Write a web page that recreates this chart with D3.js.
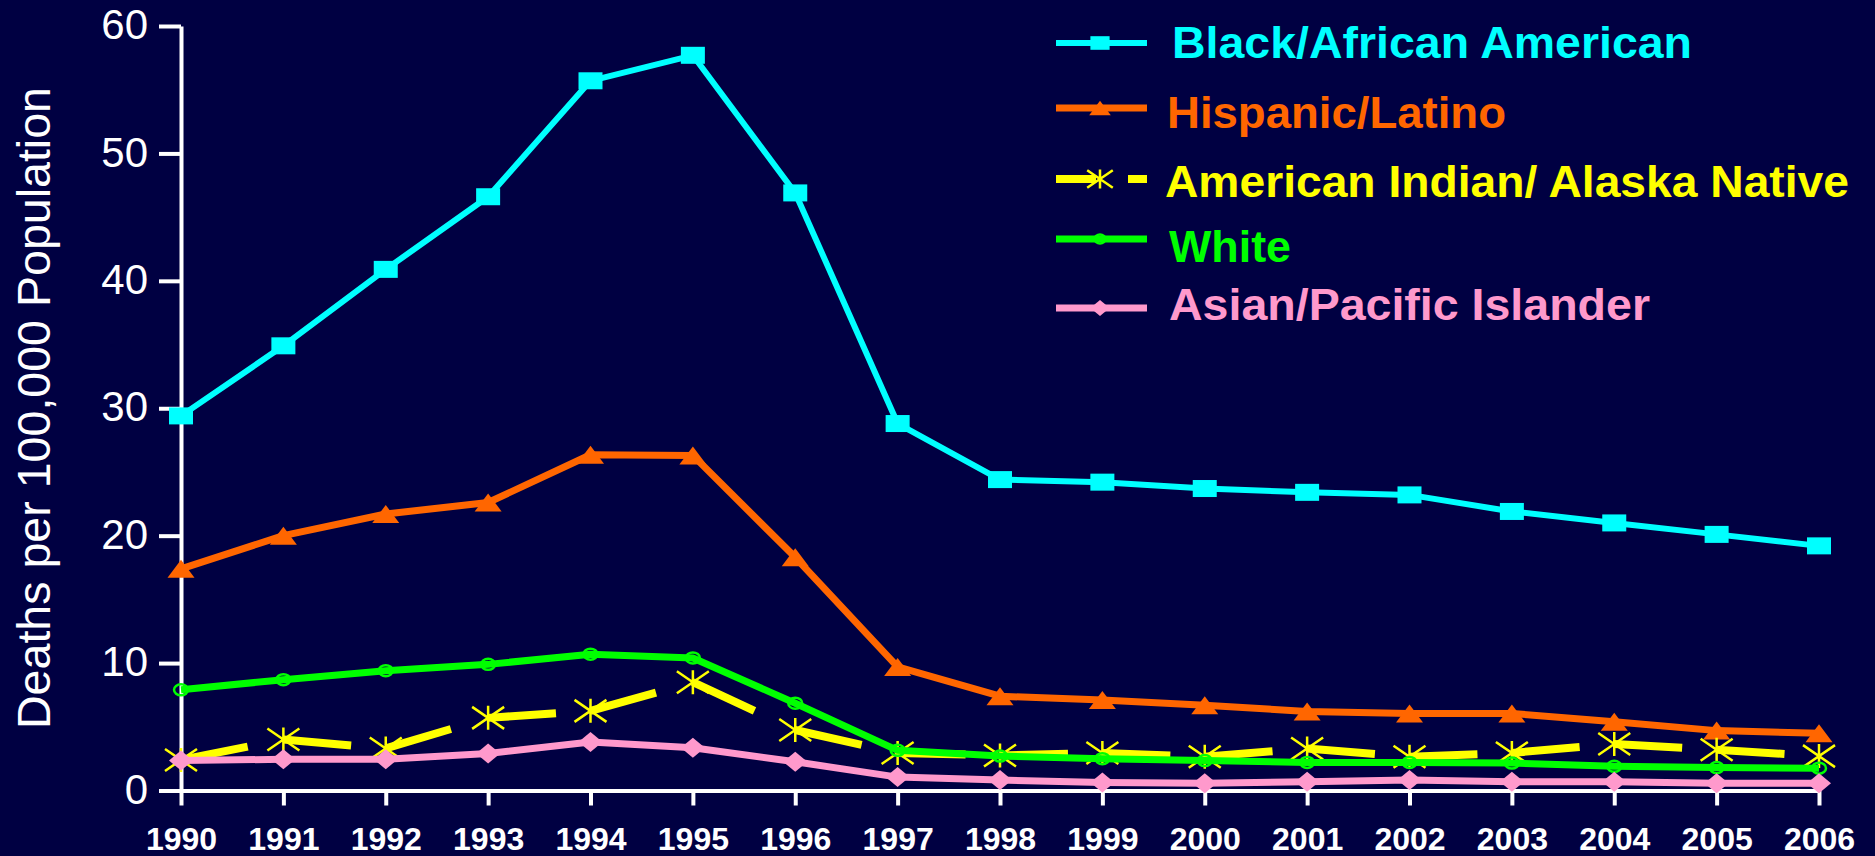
<!DOCTYPE html>
<html>
<head>
<meta charset="utf-8">
<script src="https://cdn.jsdelivr.net/npm/d3@7"></script>
<style>
  html, body { margin: 0; padding: 0; background: #000042; }
  svg { display: block; }
</style>
</head>
<body>
<svg id="chart" width="1875" height="856"></svg>
<script>
// ---- data ----
const years = [1990,1991,1992,1993,1994,1995,1996,1997,1998,1999,2000,2001,2002,2003,2004,2005,2006];
const yTicks = [0,10,20,30,40,50,60];
const black    = [29.4,34.9,40.9,46.6,55.7,57.7,46.9,28.8,24.4,24.2,23.7,23.4,23.2,21.9,21.0,20.1,19.2];
const hispanic = [17.4,20.0,21.7,22.6,26.35,26.3,18.3,9.7,7.4,7.1,6.7,6.2,6.05,6.05,5.4,4.7,4.5];
const aian     = [2.4,4.0,3.3,5.7,6.25,8.5,4.75,2.95,2.75,2.95,2.65,3.3,2.65,2.95,3.65,3.2,2.7];
const white    = [7.9,8.7,9.4,9.9,10.7,10.4,6.85,3.15,2.7,2.5,2.35,2.2,2.2,2.15,1.9,1.8,1.75];
const asian    = [2.35,2.45,2.45,2.9,3.8,3.35,2.25,1.05,0.82,0.62,0.56,0.69,0.82,0.69,0.68,0.57,0.56];
const seriesNames = ["Black/African American","Hispanic/Latino","American Indian/ Alaska Native","White","Asian/Pacific Islander"];
const yLabel = "Deaths per 100,000 Population";

// ---- layout / style ----
const svg = d3.select("#chart");
svg.append("rect").attr("width",1875).attr("height",856).attr("fill","#000042");

const x = d3.scalePoint().domain(years).range([181, 1819]);
const y = d3.scaleLinear().domain([0, 60]).range([790.5, 26]);

const series = [
  {name: seriesNames[0], values: black,    color: "#00FFFF", width: 6, marker: "square"},
  {name: seriesNames[1], values: hispanic, color: "#FF6600", width: 7, marker: "triangle"},
  {name: seriesNames[2], values: aian,     color: "#FFFF00", width: 8, marker: "asterisk", dashed: true},
  {name: seriesNames[3], values: white,    color: "#00FF00", width: 7, marker: "circle"},
  {name: seriesNames[4], values: asian,    color: "#FF99CC", width: 7, marker: "diamond"}
];

// axes
const yAxis = d3.axisLeft(y).tickValues(yTicks).tickSize(22).tickSizeOuter(0).tickPadding(11);
const gy = svg.append("g").attr("transform","translate(181,0)").call(yAxis);
gy.selectAll("path.domain").attr("stroke","#fff").attr("stroke-width",4);
gy.selectAll(".tick line").attr("stroke","#fff").attr("stroke-width",4);
gy.selectAll(".tick text").attr("fill","#fff").attr("font-family","'Liberation Sans', Arial, sans-serif")
  .attr("font-size",42).attr("dy","0.3em");

const xAxis = d3.axisBottom(x).tickSize(15).tickSizeOuter(0).tickPadding(0);
const gx = svg.append("g").attr("transform","translate(0,790.5)").call(xAxis);
gx.selectAll("path.domain").attr("stroke","#fff").attr("stroke-width",4);
gx.selectAll(".tick line").attr("stroke","#fff").attr("stroke-width",4);
gx.selectAll(".tick text").attr("fill","#fff").attr("font-family","'Liberation Sans', Arial, sans-serif")
  .attr("font-size",32).attr("font-weight","bold").attr("y",59.5).attr("dy","0");
svg.selectAll(".tick text").attr("font-family","'Liberation Sans', Arial, sans-serif");
gx.attr("font-family",null); gy.attr("font-family",null);

// y label
svg.append("text")
  .attr("transform","translate(50,408) rotate(-90)")
  .attr("text-anchor","middle")
  .attr("fill","#fff")
  .attr("font-family","'Liberation Sans Narrow','Liberation Sans', Arial, sans-serif")
  .attr("font-size",46)
  .attr("textLength",642).attr("lengthAdjust","spacingAndGlyphs")
  .text(yLabel);

// marker drawing
function drawMarker(g, type, color, cx, cy, scale) {
  const s = scale || 1;
  if (type === "square") {
    g.append("rect").attr("x",cx-12*s).attr("y",cy-8.5*s).attr("width",24*s).attr("height",17*s).attr("fill",color);
  } else if (type === "triangle") {
    g.append("path").attr("d",`M${cx},${cy-9*s} L${cx+13.5*s},${cy+9*s} L${cx-13.5*s},${cy+9*s} Z`).attr("fill",color);
  } else if (type === "diamond") {
    g.append("path").attr("d",`M${cx},${cy-10*s} L${cx+12*s},${cy} L${cx},${cy+10*s} L${cx-12*s},${cy} Z`).attr("fill",color);
  } else if (type === "circle") {
    g.append("ellipse").attr("cx",cx).attr("cy",cy).attr("rx",7*s).attr("ry",5.5*s)
      .attr("fill","none").attr("stroke",color).attr("stroke-width",2.5);
  } else if (type === "asterisk") {
    const p = `M${cx},${cy-12*s} L${cx},${cy+12*s} M${cx-16*s},${cy-11*s} L${cx+16*s},${cy+11*s} M${cx-16*s},${cy+11*s} L${cx+16*s},${cy-11*s}`;
    g.append("path").attr("d",p).attr("stroke",color).attr("stroke-width",2.5).attr("fill","none");
  }
}

const line = d3.line().x((d,i)=>x(years[i])).y(d=>y(d));

series.forEach(s => {
  const g = svg.append("g");
  if (s.dashed) {
    for (let i = 0; i < s.values.length - 1; i++) {
      g.append("line")
        .attr("x1", x(years[i])).attr("y1", y(s.values[i]))
        .attr("x2", x(years[i+1])).attr("y2", y(s.values[i+1]))
        .attr("stroke", s.color).attr("stroke-width", s.width)
        .attr("stroke-dasharray","68,2000").attr("stroke-linecap","butt");
    }
  } else {
    g.append("path").datum(s.values).attr("d", line)
      .attr("fill","none").attr("stroke", s.color).attr("stroke-width", s.width)
      .attr("stroke-linejoin","round");
  }
  s.values.forEach((v,i) => drawMarker(g, s.marker, s.color, x(years[i]), y(v)));
});

// legend
const legendY = [43, 108, 179, 239, 308];
const legendBase = [58, 128, 197, 262, 320];
const legendTextX = [1172, 1167, 1165, 1169, 1169];
const legendTextW = [520, 339, 684, 122, 481];
series.forEach((s, i) => {
  const g = svg.append("g");
  if (s.dashed) {
    g.append("line").attr("x1",1056).attr("x2",1096).attr("y1",legendY[i]).attr("y2",legendY[i])
      .attr("stroke",s.color).attr("stroke-width",s.width);
    g.append("line").attr("x1",1128).attr("x2",1147).attr("y1",legendY[i]).attr("y2",legendY[i])
      .attr("stroke",s.color).attr("stroke-width",s.width);
  } else {
    g.append("line").attr("x1",1056).attr("x2",1147).attr("y1",legendY[i]).attr("y2",legendY[i])
      .attr("stroke",s.color).attr("stroke-width",s.width);
  }
  drawMarker(g, s.marker, s.color, 1100, legendY[i], 0.8);
  g.append("text").attr("x",legendTextX[i]).attr("y",legendBase[i])
    .attr("fill",s.color)
    .attr("font-family","'Liberation Sans', Arial, sans-serif")
    .attr("font-weight","bold").attr("font-size",44)
    .attr("textLength",legendTextW[i]).attr("lengthAdjust","spacingAndGlyphs")
    .text(s.name);
});
</script>
</body>
</html>
